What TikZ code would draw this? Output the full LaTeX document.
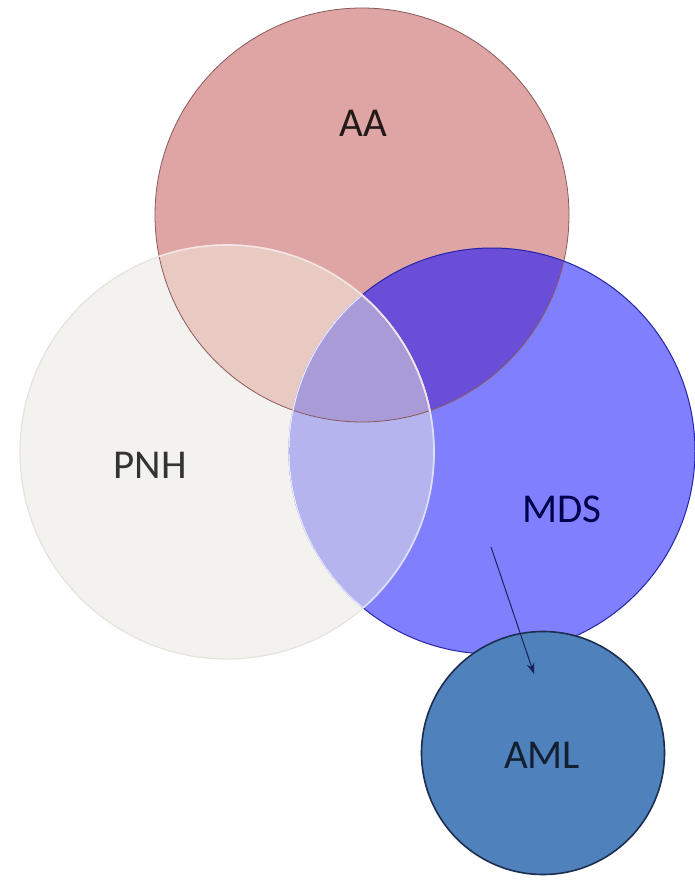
\documentclass[tikz,border=0pt]{standalone}
\usepackage{fontspec}
\setmainfont{Carlito}
\usetikzlibrary{arrows.meta}
\definecolor{aafill}{HTML}{DEA5A4}
\definecolor{aaline}{HTML}{8A5A5C}
\definecolor{pnhfill}{HTML}{F3F2EE}
\definecolor{pnhline}{HTML}{E4E3DE}
\definecolor{mdsfill}{HTML}{8080FF}
\definecolor{mdsline}{HTML}{2424A8}
\definecolor{amlfill}{HTML}{4F81BD}
\definecolor{amlline}{HTML}{1C2E4E}
\definecolor{aapnh}{HTML}{E9CAC3}
\definecolor{aamds}{HTML}{6B4ED8}
\definecolor{pnhmds}{HTML}{B4B4EE}
\definecolor{triple}{HTML}{A99AD8}
\definecolor{arrowcol}{HTML}{1A2458}
\begin{document}
\begin{tikzpicture}[x=1pt,y=-1pt,
  setcircle/.style={circle,inner sep=0pt,outer sep=0pt},
  lbl/.style={font=\fontsize{41}{48}\selectfont}]
\useasboundingbox (0,0) rectangle (695,880);
\fill[white] (0,0) rectangle (695,880);
% base circles
\node[setcircle,minimum size=414pt,fill=aafill] (AA) at (362,215) {};
\node[setcircle,minimum size=414pt,fill=pnhfill] (PNH) at (227,452) {};
\node[setcircle,minimum size=406pt,fill=mdsfill] (MDS) at (492,451) {};
% overlaps
\begin{scope}
  \clip (AA.center) circle (207);
  \fill[aapnh] (PNH.center) circle (207);
  \fill[aamds] (MDS.center) circle (203);
\end{scope}
\begin{scope}
  \clip (PNH.center) circle (207);
  \fill[pnhmds] (MDS.center) circle (203);
\end{scope}
\begin{scope}
  \clip (AA.center) circle (207);
  \clip (PNH.center) circle (207);
  \fill[triple] (MDS.center) circle (203);
\end{scope}
% outlines
\draw[aaline,line width=0.8pt] (AA.center) circle (207);
\draw[mdsline,line width=1pt] (MDS.center) circle (203);
\begin{scope}
  \clip (PNH.center) circle (207);
  \draw[white!80!mdsfill,line width=1.4pt] (MDS.center) circle (203);
\end{scope}
\draw[pnhline,line width=1.2pt] (PNH.center) circle (207);
\begin{scope}
  \clip (MDS.center) circle (203);
  \draw[white!75!mdsfill,line width=1.6pt] (PNH.center) circle (207);
\end{scope}
\begin{scope}
  \clip (AA.center) circle (207);
  \draw[white!70!aafill,line width=1.6pt] (PNH.center) circle (207);
\end{scope}
% AML
\node[setcircle,minimum size=243pt,fill=amlfill,draw=amlline,line width=1.6pt] (AML) at (543,753) {};
% labels
\node[lbl,text=black!85!aafill] (tAA) at (363,123) {AA};
\node[lbl,text=black!80] (tPNH) at (150,465) {PNH};
\node[lbl,text=black!70!blue] (tMDS) at (562,509) {MDS};
\node[lbl,text=black!75!amlfill] (tAML) at (542,755) {AML};
% arrow
\coordinate (arrs) at (491,547);
\coordinate (arre) at (534,674);
\draw[arrowcol,line width=1pt,-{Stealth[length=11pt,width=8pt]}] (arrs) -- (arre);
\end{tikzpicture}
\end{document}
